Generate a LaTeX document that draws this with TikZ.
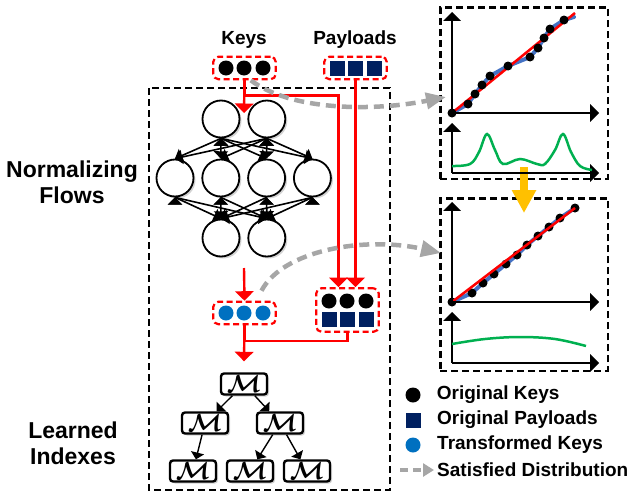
\documentclass[tikz,border=0pt]{standalone}
\usepackage{fontspec}
\setmainfont{Liberation Sans}
\usepackage{amsmath}
\usetikzlibrary{arrows,arrows.meta,positioning,calc,fit,shadows}
\definecolor{navy}{HTML}{002060}
\definecolor{keyblue}{HTML}{0070C0}
\definecolor{fitblue}{HTML}{4472C4}
\definecolor{dgreen}{HTML}{00B050}
\definecolor{amber}{HTML}{FFC000}
\definecolor{lgray}{HTML}{A6A6A6}
\newcommand{\mdl}{$\boldsymbol{\mathcal{M}}$}
\tikzset{main base/.style={draw,line width=1.8pt,fill=white,drop shadow={opacity=0.35,shadow xshift=2pt,shadow yshift=-2pt}}, }
\tikzset{neuron/.style={circle,main base,minimum size=37pt,inner sep=0pt}, }
\tikzset{model/.style={rectangle,rounded corners=3pt,main base,line width=2.4pt,minimum width=46pt,minimum height=21pt,inner sep=0pt,font=\fontsize{24}{24}\selectfont}, }
\tikzset{red group/.style={draw=red,dash pattern=on 6pt off 3.5pt,rounded corners=5pt,line width=2.2pt,inner xsep=5pt,inner ysep=3.5pt}, }
\tikzset{frame/.style={draw,line width=2.5pt,dash pattern=on 7pt off 4pt,inner sep=0pt}, }
\tikzset{key dot/.style={circle,fill=black,minimum size=15pt,inner sep=0pt}, }
\tikzset{tkey dot/.style={key dot,fill=keyblue}, }
\tikzset{payload/.style={rectangle,fill=navy,minimum size=15pt,inner sep=0pt}, }
\tikzset{big title/.style={font=\fontsize{23}{26}\selectfont\bfseries,align=center,inner sep=0pt}, }
\tikzset{small title/.style={font=\fontsize{19}{21}\selectfont\bfseries,inner sep=0pt}, }
\tikzset{linea/.style={-triangle 90,line width=1.6pt,draw}}
\tikzset{linea red/.style={-triangle 90,line width=2.4pt,draw=red}}
\tikzset{linea2/.style={-{Triangle[length=20pt,width=16pt]},line width=4.5pt,draw=lgray,dash pattern=on 10pt off 6pt}}
\tikzset{linea3/.style={-{Triangle[length=23pt,width=23pt]},line width=8pt,draw=amber}}
\tikzset{chart axis/.style={-triangle 90,line width=2.2pt}}

\begin{document}
\begin{tikzpicture}[x=1pt,y=-1pt]
\useasboundingbox (0,0) rectangle (637,498);
%
\node[big title] (nf) at (72,182) {Normalizing\\Flows};
\node[big title] (li) at (73,443) {Learned\\Indexes};
\node[small title] (kt) at (244,40) {Keys};
\node[small title] (pt) at (355,40) {Payloads};
%
\draw[frame] (149,88) rectangle (390,490);
\foreach \i/\x in {1/226,2/244,3/263}{
  \node[key dot] (k\i) at (\x,68) {};
  \node[payload] (p\i) at (\x+111,68) {};
  \node[tkey dot] (t\i) at (\x,313) {};
  \node[key dot] (bk\i) at (\x+103,301) {};
  \node[payload] (bp\i) at (\x+103,319) {};
}
\node[red group,fit=(k1)(k3)] (keys) {};
\node[red group,fit=(p1)(p3)] (payloads) {};
\node[red group,fit=(t1)(t3)] (trans) {};
\node[red group,fit=(bk1)(bp3),inner sep=5pt] (both) {};
%
\node[neuron] (1) at (221,119) {};
\node[neuron] (2) [right=7pt of 1] {};
\node[neuron] (3) at (175,178) {};
\node[neuron] (4) [right=7pt of 3] {};
\node[neuron] (5) [right=7pt of 4] {};
\node[neuron] (6) [right=7pt of 5] {};
\node[neuron] (7) at (221,238) {};
\node[neuron] (8) [right=7pt of 7] {};
\foreach \x /\y in {1/3,1/4,1/5,1/6,2/3,2/4,2/5,2/6,3/7,3/8,4/7,4/8,5/7,5/8,6/7,6/8}
  \path[linea] (\x.south) edge node {} (\y.north);
%
\node[model] (9) at (244,384) {\mdl};
\node[model] (10) at (205,423) {\mdl};
\node[model] (11) at (280,423) {\mdl};
\node[model] (12) at (193,471) {\mdl};
\node[model] (13) at (250,471) {\mdl};
\node[model] (14) at (307,471) {\mdl};
\foreach \x /\y in {9/10,9/11,10/12,11/13,11/14}
  \path[linea,line width=1.4pt] (\x) edge node {} (\y);
%
\coordinate (nnin) at (244,113);
\coordinate (nnout) at (244,268);
\draw[linea red] (keys.south) -- (nnin);
\draw[linea red] (keys.south) -- ++(0,15) -| ([xshift=-9pt]both.north);
\draw[linea red] (payloads.south) -- (payloads.south |- both.north);
\draw[linea red] (nnout) -- (trans.north);
\draw[red,line width=2.4pt] (both.south) -- ++(0,8) -| (trans.south);
\draw[linea red] (trans.south) -- ([yshift=11pt]9.north);
%
\node[frame,minimum width=167.5pt,minimum height=171.5pt] (c1) at (524,93) {};
\node[frame,minimum width=167.5pt,minimum height=172.5pt] (c2) at (524,284.5) {};
\draw[linea3] ([yshift=13pt]c1.south) -- ([yshift=-16pt]c2.north);
\coordinate (in1) at (446,97);
\coordinate (in2) at (441,253);
\draw[linea2] ([xshift=-26pt]keys.south east) .. controls (290,110) and (370,112) .. (in1);
\draw[linea2] ([xshift=17pt,yshift=10pt]trans.north) .. controls (283,250) and (365,236) .. (in2);
%
\draw[fitblue,line width=4pt,line cap=round,line join=round] (452,113) -- (468,104) -- (475,94) -- (482,85) -- (490,76) -- (508,66) -- (530,57) -- (538,48) -- (544,38) -- (550,29) -- (564,20) -- (574,17);
\draw[red,line width=2.5pt] (452,113) -- (575,13);
\foreach \x/\y in {452/113,468/104,475/94,482/85,490/76,508/66,530/57,538/48,544/38,550/29,564/20}
  \fill (\x,\y) circle (4.5pt);
\draw[chart axis] (452,113) -- (452,12);
\draw[chart axis] (452,113) -- (599,113);
\draw[chart axis] (452,173) -- (452,123);
\draw[chart axis] (452,173) -- (599,173);
\draw[dgreen,line width=2.5pt] plot[smooth,tension=0.6] coordinates {(452,166) (470,164) (479,152) (487,134) (495,150) (503,164) (520,159) (537,164) (545,164) (555,150) (563,134) (571,152) (580,166) (592,170)};
%
\draw[fitblue,line width=4pt,line cap=round] (452,302) -- (472,293) -- (483,283) -- (494,274) -- (506,264) -- (517,255) -- (527,245) -- (538,236) -- (549,227) -- (560,218) -- (575,208);
\foreach \x/\y in {452/302,472/293,483/283,494/274,506/264,517/255,527/245,538/236,549/227,560/218,575/208}
  \fill (\x,\y) circle (4.5pt);
\draw[red,line width=2.5pt] (452,302) -- (575,208);
\draw[chart axis] (452,302) -- (452,202);
\draw[chart axis] (452,302) -- (599,302);
\draw[chart axis] (452,363) -- (452,312);
\draw[chart axis] (452,363) -- (599,363);
\draw[dgreen,line width=2.5pt] plot[smooth,tension=0.6] coordinates {(452,344) (485,339) (520,337) (555,339) (586,346)};
%
\node[key dot] (l1) at (413,395) {};
\node[payload] (l2) at (413,420) {};
\node[tkey dot] (l3) at (413,445) {};
\coordinate (l4a) at (400,470);
\coordinate (l4b) at (434,470);
\draw[draw=lgray,line width=4pt,dash pattern=on 8pt off 5pt,-{Triangle[length=11pt,width=13pt]}] (l4a) -- (l4b);
\node[small title] (lt1) [right=16pt of l1] {Original Keys};
\node[small title,anchor=west] (lt2) at (437,420) {Original Payloads};
\node[small title,anchor=west] (lt3) at (437,445) {Transformed Keys};
\node[small title,anchor=west] (lt4) at (437,470) {Satisfied Distribution};
\end{tikzpicture}
\end{document}
